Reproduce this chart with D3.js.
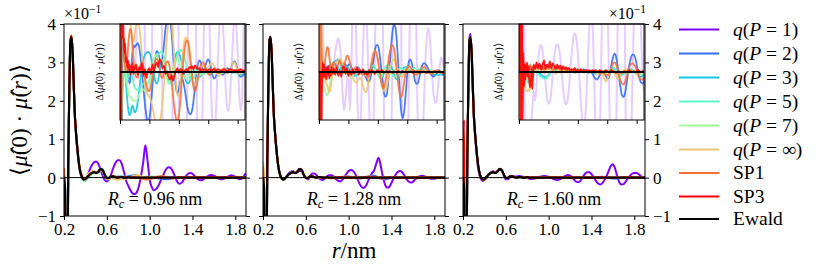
<!DOCTYPE html>
<html>
<head>
<meta charset="utf-8">
<script src="https://cdn.jsdelivr.net/npm/d3@7"></script>
<style>
  body { margin: 0; background: #fff; }
</style>
</head>
<body>
<svg id="chart" width="830" height="274" font-family="Liberation Serif"></svg>
<script>
// ---- data -------------------------------------------------------------
// r grid (nm): fine near the first peak, 0.02 nm afterwards
var r = [
  0.20,0.21,0.22,0.23,0.24,0.25,0.26,0.27,0.28,0.29,0.30,
  0.31,0.32,0.33,0.34,0.35,0.36,0.37,0.38,0.39,0.40,
  0.42,0.44,0.46,0.48,0.50,0.52,0.54,0.56,0.58,0.60,
  0.62,0.64,0.66,0.68,0.70,0.72,0.74,0.76,0.78,0.80,
  0.82,0.84,0.86,0.88,0.90,0.92,0.94,0.96,0.98,1.00,
  1.02,1.04,1.06,1.08,1.10,1.12,1.14,1.16,1.18,1.20,
  1.22,1.24,1.26,1.28,1.30,1.32,1.34,1.36,1.38,1.40,
  1.42,1.44,1.46,1.48,1.50,1.52,1.54,1.56,1.58,1.60,
  1.62,1.64,1.66,1.68,1.70,1.72,1.74,1.76,1.78,1.80,
  1.82,1.84,1.86,1.88,1.90];

// Ewald reference, in units of 1e-1
var ewald = [
  0,-0.3,-4,-3.5,0.4,2.3,3.55,3.66,3.3,2.5,1.7,
  1.25,0.9,0.6,0.35,0.18,0.07,0,-0.04,-0.05,-0.04,
  0.02,0.08,0.12,0.14,0.12,0.15,0.22,0.2,0.08,-0.01,
  -0.01,0.03,0.03,0.01,0,0.01,0.01,0,0,0.01,
  0,0,0,0,0,0,0,0,0,0,
  0,0,0,0,0,0,0,0,0,0,
  0,0,0,0,0,0,0,0,0,0,
  0,0,0,0,0,0,0,0,0,0,
  0,0,0,0,0,0,0,0,0,0,
  0,0,0,0,0];

// deviations from Ewald, in units of 1e-3 (= 1e-2 of the main axis)
// Rc = 0.96 nm
var qP1_096 = [
  0,0,0,0,5,10,3,0,0,0,0,
  0,0,0,0,0,0,0,-1,-1,-1,
  3,12,20,26,30,21,0,-14,-14,-9,
  -4,5,22,37,45,44,34,15,-8,-22,
  -33,-41,-43,-38,-22,5,40,84,45,-5,
  -25,-33,-30,-22,-10,2,15,24,27,24,
  14,0,-12,-16,-13,-5,4,10,12,10,
  4,-2,-6,-7,-5,-1,3,6,7,5,
  2,-2,-4,-4,-2,1,4,6,5,2,
  -2,-4,-3,4,12];
var qP2_096 = [
  10,8,-6,4,2,1,0.5,1,1.5,1.2,0.6,
  0,-0.8,-1.2,-0.8,0,1,2,2.5,2.8,2.6,
  2.8,3,2.6,1.5,0,-1.8,-3.4,-4.6,-5.2,-4.8,
  -3.5,-1.6,0.2,1.6,2.2,2,1.2,0.8,1.5,3,
  4.6,5.6,6,5.6,4.2,2.2,0,-1.6,-2.2,-1.8,
  -1,-0.6,-1,-1.8,-2.8,-3.8,-4.3,-4.4,-4,-3,
  -1.6,-0.2,0.8,1.2,1,0.4,0.2,0.6,1.1,1.3,
  1,0.3,-0.4,-0.7,-0.5,-0.1,0.2,0.1,-0.2,-0.3,
  -0.1,0.2,0.4,0.3,0.3,0.6,1,1.1,0.8,0.2,
  -0.3,-0.5,-0.4,-0.2,-0.3];
var qP3_096 = [
  -15,12,-8,-3,-1,0,0.5,0,-1,-2,-3,
  -3.8,-4.3,-4.5,-4.4,-4,-3.6,-3.5,-3.7,-4,-4.2,
  -4,-3.2,-2,-0.6,0.6,1.4,1.8,2,2.1,2,
  1.6,0.8,-0.2,-1,-1.2,-0.8,0,0.8,1.2,1,
  0.4,-0.4,-1,-1.2,-0.8,0,1,1.8,2.1,2,
  1.6,1,0.2,-0.5,-1,-1.2,-1.1,-0.7,-0.2,0.2,
  0.3,0.2,-0.2,-0.5,-0.4,0,0.3,0.4,0.2,-0.1,
  -0.3,-0.2,0.1,0.2,0.1,0,-0.1,0,0.1,0.1,
  0,-0.1,0,0.1,0,-0.1,-0.1,0,0,-0.1,
  -0.2,-0.3,-0.3,-0.4,-0.3];
var qP5_096 = [
  12,-10,6,2,1,0.5,0,-0.5,-1,-1.2,-1,
  -0.5,0,0.4,0.6,0.4,0,-0.5,-1,-1.4,-1.6,
  -1.8,-1.9,-1.8,-1.6,-1.4,-1.2,-1.2,-1.3,-1.2,-0.8,
  -0.1,0.7,1.3,1.6,1.7,1.8,2,2.1,2,1.5,
  0.7,-0.2,-0.9,-1.2,-1,-0.4,0.4,1.2,1.8,2.2,
  2.3,2.2,1.9,1.4,0.8,0.2,-0.3,-0.7,-0.8,-0.6,
  -0.3,0,0.2,0.2,0,-0.2,-0.2,0,0.2,0.3,
  0.2,0,-0.1,0,0.1,0.1,0,-0.1,0,0.1,
  0.1,0,-0.1,0,0.1,0,-0.1,0,0.1,0,
  -0.1,0,0.1,0,-0.1];
var qP7_096 = [
  -8,10,-5,-2,-0.5,0.5,1,0.8,0,-0.8,-1.5,
  -2,-2.4,-2.6,-2.6,-2.7,-2.8,-2.9,-3,-3,-3,
  -3,-2.8,-2.4,-2,-1.8,-1.8,-2,-2.1,-2,-1.6,
  -0.8,0.2,1.2,1.8,1.8,1.4,1.1,1.2,1.2,0.8,
  0,-0.8,-1.2,-1,-0.4,0.4,1,1.4,1.4,1.1,
  0.6,0.2,-0.2,-0.5,-0.7,-0.6,-0.3,0,0.3,0.4,
  0.3,0,-0.3,-0.4,-0.2,0.1,0.3,0.2,0,-0.1,
  0,0.1,0.1,0,-0.1,0,0.1,0.1,0,-0.1,
  0,0.1,0,-0.1,0,0.1,0,-0.1,0,0.1,
  0,-0.1,0,0.1,0];
var qPinf_096 = [
  20,-15,12,8,6,5.5,5.5,6,6.5,6.8,6.5,
  6,5.5,5.2,5,4.6,4,3.5,3.2,3.4,4,
  5,5.4,4.8,3.4,1.6,0,-1.2,-2,-2.4,-2.6,
  -3,-3.6,-4.4,-5.2,-5.6,-5.6,-5.2,-4.4,-3,-1,
  1.5,3.8,5.4,6,5.4,3.6,1.2,-1,-2.4,-2.6,
  -1.4,0.6,2.4,3.4,3.6,3,1.8,0.4,-0.8,-1.4,
  -1.4,-0.9,-0.3,0.2,0.5,0.6,0.6,0.5,0.4,0.5,
  0.7,0.9,0.9,0.6,0.2,-0.2,-0.4,-0.3,0,0.3,
  0.4,0.3,0.1,0,0.2,0.6,1,1,0.6,0.1,
  -0.2,-0.2,0,0.2,0.1];
var sp1_096 = [
  25,-20,15,8,6,4,2,0.5,0,0.5,1.5,
  2.6,3.5,4.2,4.5,4.3,3.6,2.6,1.6,0.8,0.2,
  -0.5,-0.6,0,0.8,1,0.4,-0.6,-1.4,-1.9,-2,
  -1.5,-0.6,0.4,1.2,1.4,1,0.2,-0.5,-0.6,0,
  0.7,1.1,1,0.3,-0.9,-2.4,-3.8,-4.8,-5.2,-4.6,
  -3,-1,1,2.4,3.2,3.3,2.6,1.2,-0.4,-1.6,
  -2,-1.6,-0.7,0.2,0.8,1,0.9,0.5,0.1,-0.2,
  -0.3,-0.1,0.2,0.4,0.3,0.1,-0.1,0,0.2,0.3,
  0.2,0,-0.1,0,0.2,0.3,0.2,0.1,0,0.1,
  0.2,0.1,0,0.1,0.1];
var sp3_096 = [
  0,-300,0,40,3.6,3.5,2,3,1,1.5,0.5,
  1.2,0.2,0.8,-0.3,0.6,0.1,0.9,-0.2,0.5,0.3,
  0.8,-0.3,0.5,0.2,0.9,-0.4,0.3,-0.6,0.2,0.4,
  -0.2,0.8,0.1,0.6,1,0.5,1.3,1.1,0.4,0.6,
  -0.2,0.1,-0.5,-0.8,-0.3,-0.9,-0.4,0.1,0.4,-0.1,
  0.3,0.2,-0.2,0.1,0.3,0.1,0.5,0.4,0.6,0.3,
  0.7,0.5,0.3,0.4,0.1,0.3,0.2,0.3,0.1,0.2,
  0.3,0.1,0.2,0.3,0.1,0.2,0.3,0.2,0.1,0.2,
  0.3,0.2,0.1,0.2,0.3,0.2,0.1,0.2,0.2,0.1,
  0.2,0.3,0.2,0.1,0.2];

// Rc = 1.28 nm
var qP1_128 = [
  0,0,0,0,3,6,2,0,0,0,0,
  0,0,0,0,0,0,0,0,1,1,
  2,3,3.5,3,1,-2,-4,-3,-1,1,
  -4,0,8,10,6,-2,-6,-6,-2,3,
  6,6,3,-3,-8,-10,-6,2,10,17,
  20,18,10,-2,-15,-24,-27,-22,-10,3,
  12,20,38,52,30,2,-18,-26,-24,-14,
  -2,8,15,17,14,6,-4,-10,-13,-11,
  -5,0,3,4.5,4.2,2,-0.5,-2.5,-3.2,-3,
  -1.5,0.5,1.5,1.2,0.5];
var qP2_128 = [
  -10,12,-6,2,1,0.5,0.8,0.4,0.6,0.2,0.5,
  0.3,0.6,0.4,0.7,0.5,0.8,0.6,0.7,0.9,0.7,
  0.8,0.6,0.5,0.3,0.4,0.7,0.9,0.8,0.6,0.7,
  0.8,0.5,0.2,0.1,0.3,0.5,0.4,0.1,0,-0.1,
  -0.3,-0.6,-0.9,-1,-0.6,0.2,1.2,2.2,2.8,2.8,
  2.1,0.8,-0.7,-2,-2.6,-2.4,-1.2,0.6,2.6,4.2,
  4.9,4.6,3,0.6,-2.2,-4.2,-4.8,-4,-2.2,-0.2,
  1,1.3,1,0.2,-0.7,-1.2,-1.2,-0.7,0,0.6,
  0.9,0.9,0.7,0.4,0.1,-0.2,-0.4,-0.5,-0.3,0,
  0.2,0.1,-0.1,-0.3,-0.2];
var qP3_128 = [
  -20,15,-5,-1,0,0.3,0.1,0.4,0.2,0.5,0.3,
  0.4,0.6,0.3,0.5,0.7,0.5,0.8,0.6,0.9,1,
  1.1,1.2,1.3,1.2,0.8,0.4,0.3,0.5,0.6,0.4,
  0.2,0,-0.2,-0.4,-0.4,-0.2,0,0.1,0,-0.1,
  -0.2,-0.1,0,0.2,0.4,0.6,0.6,0.4,0.1,-0.2,
  -0.4,-0.6,-0.5,-0.2,0.2,0.5,0.7,0.8,0.6,0.2,
  -0.2,-0.6,-0.8,-0.7,-0.4,0,0.3,0.5,0.5,0.4,
  0.2,0.1,0,0.1,0.1,0,-0.1,-0.2,-0.1,0,
  0.1,0,-0.1,-0.1,0,-0.1,-0.2,-0.3,-0.3,-0.3,
  -0.3,-0.3,-0.2,-0.3,-0.2];
var qP5_128 = [
  15,-12,4,1,0.3,0,0.2,0.4,0.1,-0.2,-0.4,
  -0.6,-0.4,-0.1,0.2,0.4,0.3,0.1,0.2,0.4,0.5,
  0.4,0.2,0.3,0.5,0.3,0.1,0.2,0.4,0.3,0.1,
  0,0.2,0.3,0.1,-0.1,-0.2,0,0.2,0.1,-0.1,
  -0.3,-0.4,-0.2,0.1,0.4,0.6,0.7,0.5,0.2,-0.2,
  -0.5,-0.6,-0.4,0,0.4,0.7,0.7,0.4,0,-0.3,
  -0.5,-0.4,-0.1,0.2,0.4,0.4,0.3,0.3,0.4,0.4,
  0.3,0.2,0.3,0.4,0.4,0.3,0.2,0.3,0.4,0.4,
  0.3,0.2,0.1,0,0.1,0.2,0.1,0,-0.1,-0.1,
  -0.2,-0.2,-0.1,-0.1,0];
var qP7_128 = [
  -12,10,-4,-1,-0.5,-0.8,-1.2,-1.6,-1.9,-2.1,-2.3,
  -2.4,-2.3,-2,-1.6,-1.2,-0.8,-0.5,-0.3,-0.2,-0.1,
  0,0.2,0.1,-0.1,-0.2,0,0.2,0.1,-0.2,-0.4,
  -0.5,-0.5,-0.4,-0.2,0,0.1,0,-0.1,0,0.1,
  0.2,0.1,0,-0.2,-0.1,0.1,0.3,0.3,0.1,-0.1,
  -0.3,-0.3,-0.1,0.2,0.3,0.2,0,-0.2,-0.2,0,
  0.2,0.3,0.2,0,-0.2,-0.2,0,0.2,0.2,0.1,
  0,0,0.1,0.1,0,-0.1,0,0.1,0.1,0,
  0,0.1,0,-0.1,0,0.1,0,-0.1,-0.1,0,
  0,0.1,0,-0.1,0];
var qPinf_128 = [
  40,30,20,8,3,1,0,-0.5,-0.8,-1,-1.2,
  -1.4,-1.6,-1.9,-2.1,-2,-1.6,-1,-0.4,0.2,0.5,
  0.8,1,1.2,1.3,1.2,0.9,0.6,0.4,0.2,0,
  -0.2,-0.4,-0.6,-0.9,-1.1,-1,-0.7,-0.6,-0.9,-1.5,
  -2,-2.1,-1.6,-0.6,0.5,1.4,2,2.2,1.9,1.2,
  0.2,-0.8,-1.6,-2,-2,-1.6,-0.8,0.1,0.8,1.2,
  1.3,1,0.5,0,-0.4,-0.5,-0.4,-0.1,0.2,0.3,
  0.3,0.1,0,-0.1,0,0.1,0.2,0.1,0,-0.1,
  0,0.1,0.1,0,-0.1,0,0.1,0,-0.1,0,
  0.1,0,-0.1,0,0.1];
var sp1_128 = [
  30,-25,10,4,1,-0.5,0,0.5,1,1.6,2.2,
  2.6,2.6,2.2,1.6,1,0.6,0.4,0.5,0.8,1,
  0.8,0.4,0.8,1.2,0.8,0.3,0.6,1.2,1.7,1.6,
  1,0.4,0.2,0.3,0.5,0.4,0.2,0,-0.2,-0.3,
  -0.2,-0.3,-0.6,-0.4,0.2,1,1.8,2.2,2,1.3,
  0.3,-0.8,-1.5,-1.7,-1.2,-0.2,1,2,2.6,2.8,
  2.4,1.4,0,-1.4,-2.4,-2.6,-2,-1,0,0.5,
  0.6,0.5,0.3,0,-0.2,-0.3,-0.2,0,0.2,0.4,
  0.5,0.5,0.3,0.1,-0.1,-0.2,-0.2,0,0.1,0.2,
  0.1,0,-0.1,0,0];
var sp3_128 = [
  0,-150,0,-10,-2,1,-0.5,0.8,-0.6,0.4,-0.8,
  0.5,-0.3,0.6,-0.7,0.2,-0.4,0.5,0.3,-0.2,0.4,
  -0.3,0.5,-0.4,0.2,-0.5,0.3,0.6,-0.2,0.4,-0.4,
  0.2,-0.3,0.3,-0.2,0.1,0.4,-0.3,0.2,-0.1,0.3,
  -0.2,0.1,-0.3,0.2,-0.1,0.2,0,-0.2,0.1,0.2,
  -0.1,0.1,0.2,-0.1,0,0.1,-0.1,0.1,0,-0.1,
  0.1,0,-0.1,0.1,0,-0.1,0.1,0,0.1,-0.1,
  0,0.1,0,-0.1,0.1,0,0.1,0,-0.1,0,
  0.1,0,-0.1,0,0.1,0,0,0.1,0,-0.1,
  0,0.1,0,-0.1,0];

// Rc = 1.60 nm
var qP1_160 = [
  0,0,0,0,3,6,8,8,-6,-8,-7,
  -6,-6,-7,-8,-7,-6,-5,-4,-3,-2,
  -3,-1,1,2.5,2.8,2.2,0.8,-1,-2.6,-3.3,
  -3.2,-2,0,1.6,2.6,2.9,2.6,1.6,0,-1.8,
  -3,-3.4,-3,-1.6,0.3,2.2,3.6,4,3.5,2,
  -0.5,-3,-5,-6,-5,-2,2,5,6.5,5,
  0,-6,-11,-12,-7,2,10,14,14,9,
  1,-8,-15,-18,-15,-7,4,17,30,35,
  24,4,-12,-18,-17,-10,-2,5,10,12,
  12,9,4,0,-2];
var qP2_160 = [
  10,-8,4,1,0.5,0.2,0.3,0.5,0.4,0.6,0.3,
  0.5,0.4,0.2,0.5,0.3,0.6,0.4,0.5,0.3,0.4,
  0.5,0.3,0.4,0.6,0.3,0.5,0.4,0.2,0.4,0.5,
  0.3,0.4,0.2,0.3,0.5,0.3,0.2,0.4,0.3,0.2,
  0.3,0.2,0.1,0.3,0.2,0.1,0.2,0.3,0.2,0.1,
  0.2,0.1,0.2,0.3,0.2,0.2,0.1,0.1,0,-0.2,
  -0.5,-0.7,-0.8,-0.6,-0.3,0,0.1,-0.1,-0.4,-0.7,
  -0.6,0,0.9,1.6,1.9,1.6,0.7,-0.5,-1.6,-2.4,
  -2.6,-2.3,-1.4,-0.3,0.7,1.4,1.8,1.8,1.5,0.8,
  0,-0.7,-1.1,-1.2,-1];
var qP3_160 = [
  -10,8,-3,-1,-0.5,-0.2,0.1,0.3,0.2,0.1,0,
  -0.2,-0.4,-0.6,-0.8,-0.7,-0.5,-0.3,0,0.2,0.3,
  0.2,0.3,0.1,-0.1,-0.3,-0.4,-0.5,-0.6,-0.5,-0.3,
  -0.1,0.1,0.2,0.3,0.2,0.1,0.2,0.3,0.2,0.1,
  0,0.1,0.2,0.1,0,0.1,0,-0.1,0,0.1,
  0.1,0,0.1,0.2,0.1,0,-0.1,0,0.1,0,
  -0.1,-0.2,-0.1,0,0.1,0,-0.1,-0.2,-0.1,0,
  0.1,0.2,0.3,0.4,0.3,0.1,-0.1,-0.3,-0.4,-0.3,
  -0.2,-0.1,0,0.2,0.3,0.3,0.2,0.1,0,-0.2,
  -0.4,-0.5,-0.5,-0.4,-0.3];
var qP5_160 = [
  8,-6,3,1,0.3,0,-0.3,-0.5,-0.7,-0.8,-0.9,
  -1,-1.1,-1,-0.9,-0.6,-0.3,0,0.2,0.3,0.2,
  0.1,0,-0.2,-0.4,-0.5,-0.6,-0.7,-0.7,-0.6,-0.4,
  -0.2,0,0.2,0.4,0.3,0.2,0.4,0.5,0.3,0.2,
  0.3,0.2,0.1,0.2,0.3,0.1,0,0.2,0.3,0.1,
  0,0.1,0.2,0.1,0,0.1,0,-0.1,0,0.1,
  0,-0.1,0,0.1,0.2,0.1,0,-0.1,0,0.1,
  0.2,0.3,0.4,0.5,0.4,0.2,0,-0.2,-0.3,-0.3,
  -0.2,0,0.2,0.3,0.3,0.2,0.1,0,-0.1,-0.2,
  -0.3,-0.3,-0.2,-0.2,-0.1];
var qP7_160 = [
  -6,5,-2,-0.5,0,0.2,0.1,-0.2,-0.4,-0.5,-0.6,
  -0.7,-0.8,-0.9,-0.8,-0.6,-0.4,-0.2,0,0.2,0.3,
  0.4,0.3,0.2,0.3,0.4,0.3,0.2,0.1,0.2,0.3,
  0.4,0.3,0.2,0.3,0.4,0.3,0.2,0.3,0.2,0.1,
  0.2,0.3,0.2,0.1,0.2,0.1,0,0.1,0.2,0.1,
  0,0.1,0.2,0.1,0,0.1,0,-0.1,0,0.1,
  0.1,0,-0.1,0,0.1,0,-0.1,-0.2,-0.1,0,
  0.1,0.2,0.2,0.1,0,-0.1,-0.2,-0.2,-0.1,0,
  0.1,0.2,0.1,0,-0.1,-0.1,0,0.1,0.1,0,
  -0.1,-0.2,-0.2,-0.1,0];
var qPinf_160 = [
  15,-10,5,2,0.5,-0.3,-0.8,-1.2,-1.6,-1.9,-2,
  -2,-1.9,-1.8,-2,-1.8,-1.4,-0.8,-0.3,0.1,0.3,
  0.4,0.2,0.5,0.3,0.6,0.2,0.4,0.1,0.3,0.5,
  0.2,0,0.3,0.1,-0.2,0,0.2,-0.1,0.1,0.3,
  0,0.2,-0.1,0.1,0.3,0,0.2,0.1,-0.1,0.1,
  0.2,0,0.1,-0.1,0,0.2,0.1,0,-0.1,0,
  0.1,0.2,0,-0.2,-0.1,0,-0.3,-0.7,-1,-0.8,
  -0.3,0,0.2,0.1,-0.2,-0.5,-0.7,-0.6,-0.3,0,
  0.2,0.3,0.2,0,-0.1,0,0.1,0.2,0,-0.2,
  -0.3,-0.2,0,0.1,0];
var sp1_160 = [
  0,127,0,8,2,1,0.6,0.9,0.4,0.7,0.3,
  0.5,0.2,0.6,0.3,0.8,0.4,0.6,0.2,0.5,0.7,
  0.4,0.6,0.3,0.5,0.7,0.4,0.2,0.5,0.6,0.3,
  0.5,0.4,0.2,0.4,0.6,0.3,0.4,0.2,0.3,0.5,
  0.3,0.2,0.4,0.3,0.1,0.2,0.3,0.1,0.2,0.3,
  0.1,0.2,0.1,0,0.1,0.2,0.1,0,0.1,0,
  -0.1,0,0.1,0,-0.2,-0.1,0,-0.2,-0.3,-0.3,
  -0.3,0.1,0.5,0.9,1,0.8,0.3,-0.4,-0.9,-1.2,
  -1.3,-1.1,-0.6,0,0.5,0.8,0.9,0.8,0.6,0.2,
  -0.2,-0.6,-0.8,-0.8,-0.6];
var sp3_160 = [
  0,180,0,-20,10,-5,2,-1.5,0.8,-0.8,0.5,
  1,-0.5,0.6,-1,-1.6,-1.2,0.4,-1.8,-0.6,0.8,
  0.3,1,0.4,0.9,0.2,0.7,1.2,0.3,0.8,0.5,
  1.1,0.4,0.9,0.6,0.3,0.8,0.4,0.7,0.2,0.6,
  0.3,0.5,0.2,0.4,0.1,0.3,0.2,0.4,0.1,0.2,
  0.1,0.3,0.1,0.2,0.1,0.2,0.1,0.2,0.1,0.2,
  0.1,0.2,0,0.1,0.2,0.1,0,0.1,0.2,0.1,
  0,0.1,0.2,0.1,0,-0.1,0,0.1,0,-0.1,
  0,0.1,0,0.1,0.2,0.1,0,0.1,0,0.1,
  0.2,0.1,0,0.1,0];

var xTicks = [0.2, 0.6, 1.0, 1.4, 1.8];
var yTicks = [-1, 0, 1, 2, 3, 4];
var rcLabels = ['0.96', '1.28', '1.60'];
var seriesNames = ['1', '2', '3', '5', '7', '\u221e', 'SP1', 'SP3', 'Ewald'];
var seriesColors = ['#8000ff', '#376ff9', '#12c7e6', '#5bf9c7', '#a4f99f', '#edc76f', '#ff6f39', '#ff0000', '#000000'];

var panelData = [
  [qP1_096, qP2_096, qP3_096, qP5_096, qP7_096, qPinf_096, sp1_096, sp3_096],
  [qP1_128, qP2_128, qP3_128, qP5_128, qP7_128, qPinf_128, sp1_128, sp3_128],
  [qP1_160, qP2_160, qP3_160, qP5_160, qP7_160, qPinf_160, sp1_160, sp3_160]
];

// ---- layout -----------------------------------------------------------
var FONT = 'Liberation Serif';
var panelX = [64, 263, 463], panelW = 182, panelTop = 24, panelBot = 216;
var insetOff = 56, insetW = 125, insetTop = 24, insetBot = 120;
var insetLim = 5;   // inset shows +-5e-3
var legendX = 679, legendRowY = [29.5, 53.5, 77.5, 101.5, 125.5, 149.5, 173, 196.5, 219];

var svg = d3.select('#chart');
var defs = svg.append('defs');

panelData.forEach(function (pd, i) {
  if (pd.some(function (a) { return a.length !== r.length; }))
    console.warn('length mismatch in panel ' + i);
});

function mathLabel(sel, parts) {
  parts.forEach(function (p) {
    var t = sel.append('tspan').text(p[0]);
    if (p[1]) t.attr('font-style', 'italic');
  });
}

var muHat = '\u03bc\u0302';

panelData.forEach(function (pd, k) {
  var x0 = panelX[k];
  var x = d3.scaleLinear().domain([0.2, 1.9]).range([x0, x0 + panelW]);
  var y = d3.scaleLinear().domain([-1, 4]).range([panelBot, panelTop]);

  var g = svg.append('g');
  defs.append('clipPath').attr('id', 'clipMain' + k)
    .append('rect').attr('x', x0).attr('y', panelTop).attr('width', panelW).attr('height', panelBot - panelTop);

  var plot = g.append('g').attr('clip-path', 'url(#clipMain' + k + ')');
  var line = d3.line().x(function (d) { return x(d[0]); }).y(function (d) { return y(d[1]); })
    .curve(d3.curveMonotoneX);

  pd.forEach(function (dd, s) {
    var pts = r.map(function (rv, i) { return [rv, ewald[i] + dd[i] / 100]; });
    plot.append('path').datum(pts).attr('d', line)
      .attr('fill', 'none').attr('stroke', seriesColors[s]).attr('stroke-width', 2)
      .attr('stroke-linejoin', 'round');
  });
  plot.append('line').attr('x1', x0).attr('x2', x0 + panelW).attr('y1', y(0)).attr('y2', y(0))
    .attr('stroke', '#000').attr('stroke-width', 1);
  plot.append('path').datum(r.map(function (rv, i) { return [rv, ewald[i]]; })).attr('d', line)
    .attr('fill', 'none').attr('stroke', '#000').attr('stroke-width', 2.2).attr('stroke-linejoin', 'round');

  // inset
  var ix0 = x0 + insetOff;
  var xi = d3.scaleLinear().domain([0.2, 1.9]).range([ix0, ix0 + insetW]);
  var yi = d3.scaleLinear().domain([-insetLim, insetLim]).range([insetBot, insetTop]);
  defs.append('clipPath').attr('id', 'clipInset' + k)
    .append('rect').attr('x', ix0).attr('y', insetTop).attr('width', insetW).attr('height', insetBot - insetTop);
  g.append('rect').attr('x', ix0).attr('y', insetTop).attr('width', insetW).attr('height', insetBot - insetTop)
    .attr('fill', '#fff');
  var iplot = g.append('g').attr('clip-path', 'url(#clipInset' + k + ')');
  var iline = d3.line().x(function (d) { return xi(d[0]); }).y(function (d) { return yi(d[1]); })
    .curve(d3.curveMonotoneX);
  pd.forEach(function (dd, s) {
    iplot.append('path').datum(r.map(function (rv, i) { return [rv, dd[i]]; })).attr('d', iline)
      .attr('fill', 'none').attr('stroke', seriesColors[s]).attr('stroke-width', s === 0 ? 2 : 1.8)
      .attr('stroke-opacity', s === 0 ? 0.2 : 0.9).attr('stroke-linejoin', 'round');
  });
  iplot.append('path').datum(r.map(function (rv) { return [rv, 0]; })).attr('d', iline)
    .attr('fill', 'none').attr('stroke', '#000').attr('stroke-width', 1.8);
  g.append('rect').attr('x', ix0).attr('y', insetTop).attr('width', insetW).attr('height', insetBot - insetTop)
    .attr('fill', 'none').attr('stroke', '#000').attr('stroke-width', 1);
  var iax = g.append('g').attr('transform', 'translate(0,' + insetBot + ')')
    .call(d3.axisBottom(xi).tickValues(xTicks).tickSize(4).tickFormat(''));
  iax.select('.domain').remove();
  iax.selectAll('line').attr('stroke', '#000');

  var ilab = g.append('text')
    .attr('transform', 'translate(' + (ix0 - 17) + ',' + ((insetTop + insetBot) / 2) + ') rotate(-90)')
    .attr('text-anchor', 'middle').attr('font-size', 10.5).attr('font-family', FONT);
  mathLabel(ilab, [['\u0394\u27e8'], [muHat, true], ['(0) \u00b7 '], [muHat, true], ['('], ['r', true], [')\u27e9']]);

  // main axes
  var xa = g.append('g').attr('transform', 'translate(0,' + panelBot + ')')
    .call(d3.axisBottom(x).tickValues(xTicks).tickSize(4).tickPadding(3).tickFormat(d3.format('.1f')));
  var ya = g.append('g').attr('transform', 'translate(' + x0 + ',0)')
    .call(d3.axisLeft(y).tickValues(yTicks).tickSize(4).tickPadding(4)
      .tickFormat(k === 0 ? d3.format('d') : ''));
  var yb = g.append('g').attr('transform', 'translate(' + (x0 + panelW) + ',0)')
    .call(d3.axisRight(y).tickValues(yTicks).tickSize(4).tickPadding(4)
      .tickFormat(k === 2 ? d3.format('d') : ''));
  [xa, ya, yb].forEach(function (a) {
    a.attr('font-family', FONT).attr('font-size', 17);
    a.select('.domain').remove();
    a.selectAll('text').attr('fill', '#000');
    a.selectAll('line').attr('stroke', '#000');
  });
  g.append('rect').attr('x', x0).attr('y', panelTop).attr('width', panelW).attr('height', panelBot - panelTop)
    .attr('fill', 'none').attr('stroke', '#000').attr('stroke-width', 1);

  var rc = g.append('text').attr('x', x0 + panelW / 2).attr('y', 205)
    .attr('text-anchor', 'middle').attr('font-size', 18).attr('font-family', FONT);
  rc.append('tspan').attr('font-style', 'italic').text('R');
  rc.append('tspan').attr('font-style', 'italic').attr('font-size', 12.5).attr('dy', 3).text('c');
  rc.append('tspan').attr('dy', -3).text(' = ' + rcLabels[k] + ' nm');
});

// offset labels
function offsetText(xp, anchor) {
  var t = svg.append('text').attr('x', xp).attr('y', 19).attr('text-anchor', anchor)
    .attr('font-size', 16).attr('font-family', FONT);
  t.append('tspan').text('\u00d710');
  t.append('tspan').attr('font-size', 11.5).attr('dy', -6).text('\u22121');
}
offsetText(64, 'start');
offsetText(646, 'end');

// axis labels
var xl = svg.append('text').attr('x', 354).attr('y', 258).attr('text-anchor', 'middle')
  .attr('font-size', 23).attr('font-family', FONT);
mathLabel(xl, [['r', true], ['/nm']]);
var yl = svg.append('text').attr('transform', 'translate(27,120) rotate(-90)')
  .attr('text-anchor', 'middle').attr('font-size', 23).attr('font-family', FONT);
mathLabel(yl, [['\u27e8'], [muHat, true], ['(0) \u00b7 '], [muHat, true], ['('], ['r', true], [')\u27e9']]);

// legend
var leg = svg.append('g');
seriesNames.forEach(function (nm, i) {
  var yy = legendRowY[i];
  leg.append('line').attr('x1', legendX).attr('x2', legendX + 40).attr('y1', yy).attr('y2', yy)
    .attr('stroke', seriesColors[i]).attr('stroke-width', 2);
  var t = leg.append('text').attr('x', legendX + 54).attr('y', yy).attr('dy', '0.33em')
    .attr('font-size', 19.5).attr('font-family', FONT);
  if (i < 6) {
    mathLabel(t, [['q', true], ['('], ['P', true], [' = ' + nm + ')']]);
  } else {
    t.text(nm);
  }
});
</script>
</body>
</html>
